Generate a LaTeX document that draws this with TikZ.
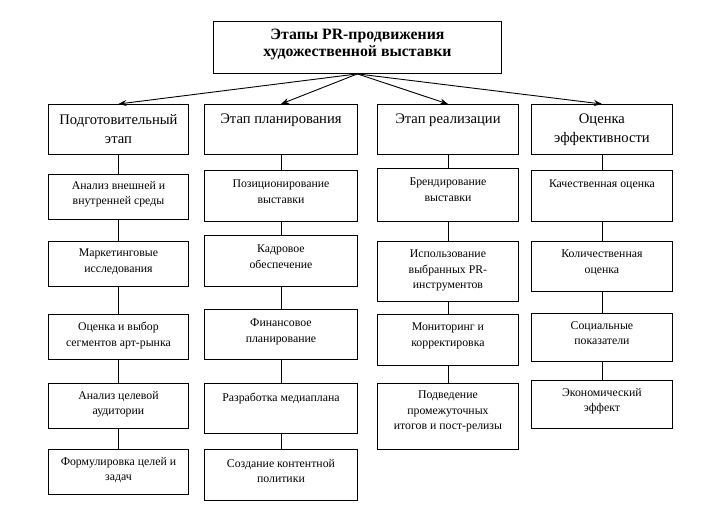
\documentclass[tikz,border=0pt]{standalone}
\usepackage{fontspec}
\setmainfont{Liberation Serif}
\usetikzlibrary{arrows.meta}
\tikzset{
  box/.style={draw=black, line width=0.9pt, inner sep=0pt, anchor=north west},
  lbl/.style={anchor=north, align=center, inner sep=0pt, font=\fontsize{11.8}{15.5}\selectfont},
  hlbl/.style={anchor=north, align=center, inner sep=0pt, font=\fontsize{14.6}{19}\selectfont},
  tlbl/.style={anchor=north, align=center, inner sep=0pt, font=\fontsize{15.8}{17}\selectfont\bfseries},
  conn/.style={draw=black, line width=0.9pt},
  arr/.style={draw=black, line width=0.9pt, -{Stealth[length=8pt,width=6pt]}}
}
% name, x1, y1, x2, y2, label style, yshift, text
\newcommand\bx[8]{%
  \node[box, minimum width={(#4-#2)*1pt}, minimum height={(#5-#3)*1pt},
        label={[#6, yshift=-#7pt]north:{#8}}] (#1) at (#2pt,-#3pt) {};}
\begin{document}
\begin{tikzpicture}
\useasboundingbox (0,0) rectangle (718pt,-529pt);
% title
\bx{t}{213}{21}{501}{73}{tlbl}{8}{Этапы PR-продвижения\\художественной выставки}
% headers
\bx{h1}{48}{104}{188}{154}{hlbl}{10}{Подготовительный\\этап}
\bx{h2}{204}{104}{357}{154}{hlbl}{10}{Этап планирования}
\bx{h3}{377}{104}{518}{154}{hlbl}{10}{Этап реализации}
\bx{h4}{531}{104}{672}{154}{hlbl}{10}{Оценка\\эффективности}
% column 1
\bx{a1}{48}{174}{188}{219}{lbl}{7}{Анализ внешней и\\внутренней среды}
\bx{a2}{48}{241}{188}{286}{lbl}{8}{Маркетинговые\\исследования}
\bx{a3}{48}{314}{188}{359}{lbl}{8}{Оценка и выбор\\сегментов арт-рынка}
\bx{a4}{48}{383}{188}{428}{lbl}{8}{Анализ целевой\\аудитории}
\bx{a5}{48}{449}{188}{494}{lbl}{8}{Формулировка целей и\\задач}
% column 2
\bx{b1}{204}{170}{357}{221}{lbl}{10}{Позиционирование\\выставки}
\bx{b2}{204}{235}{357}{286}{lbl}{10}{Кадровое\\обеспечение}
\bx{b3}{204}{309}{357}{359}{lbl}{10}{Финансовое\\планирование}
\bx{b4}{204}{383}{357}{433}{lbl}{10}{Разработка медиаплана}
\bx{b5}{204}{449}{357}{500}{lbl}{10}{Создание контентной\\политики}
% column 3
\bx{c1}{377}{168}{518}{221}{lbl}{10}{Брендирование\\выставки}
\bx{c2}{377}{241}{518}{301}{lbl}{9}{Использование\\выбранных PR-\\инструментов}
\bx{c3}{377}{314}{518}{365}{lbl}{9}{Мониторинг и\\корректировка}
\bx{c4}{377}{383}{518}{449}{lbl}{8}{Подведение\\промежуточных\\итогов и пост-релизы}
% column 4
\bx{d1}{531}{170}{672}{221}{lbl}{10}{Качественная оценка}
\bx{d2}{531}{241}{672}{291}{lbl}{9}{Количественная\\оценка}
\bx{d3}{531}{313}{672}{361}{lbl}{8}{Социальные\\показатели}
\bx{d4}{531}{380}{672}{428}{lbl}{8}{Экономический\\эффект}
% arrows
\foreach \h in {h1,h2,h3,h4} \draw[arr] (t.south) -- (\h.north);
% connectors
\draw[conn] (h1.south) -- (a1.north);
\draw[conn] (a1.south) -- (a2.north);
\draw[conn] (a2.south) -- (a3.north);
\draw[conn] (a3.south) -- (a4.north);
\draw[conn] (a4.south) -- (a5.north);
\draw[conn] (h2.south) -- (b1.north);
\draw[conn] (b1.south) -- (b2.north);
\draw[conn] (b2.south) -- (b3.north);
\draw[conn] (b3.south) -- (b4.north);
\draw[conn] (b4.south) -- (b5.north);
\draw[conn] (h3.south) -- (c1.north);
\draw[conn] (c1.south) -- (c2.north);
\draw[conn] (c2.south) -- (c3.north);
\draw[conn] (c3.south) -- (c4.north);
\draw[conn] (h4.south) -- (d1.north);
\draw[conn] (d1.south) -- (d2.north);
\draw[conn] (d2.south) -- (d3.north);
\draw[conn] (d3.south) -- (d4.north);
\end{tikzpicture}
\end{document}
